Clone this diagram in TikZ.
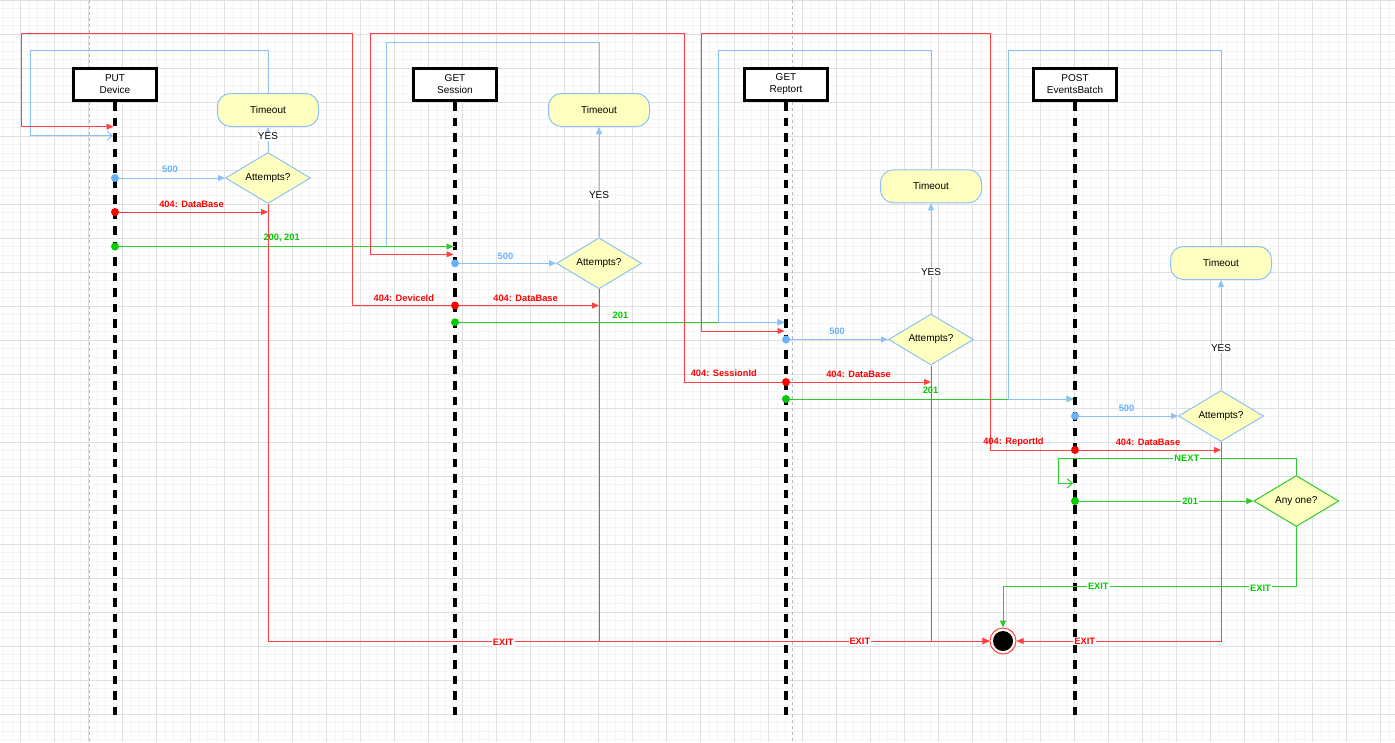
\documentclass[tikz,border=0pt]{standalone}
\usepackage{fontspec}
\setmainfont{Liberation Sans}
\usetikzlibrary{arrows.meta,shapes.geometric}
\definecolor{gridminor}{RGB}{244,244,244}
\definecolor{gridmajor}{RGB}{224,224,224}
\definecolor{pagegray}{RGB}{185,185,185}
\definecolor{noteyellow}{RGB}{255,255,192}
\definecolor{flowblue}{RGB}{140,194,248}
\definecolor{labelblue}{RGB}{102,178,255}
\definecolor{flowred}{RGB}{255,65,65}
\definecolor{flowgreen}{RGB}{45,202,45}
\definecolor{labelgreen}{RGB}{0,204,0}

\begin{document}
\begin{tikzpicture}[x=1pt,y=-1pt,
  headbox/.style={draw=black, line width=3, fill=white, minimum width=83, minimum height=32,
    align=center, inner sep=0, font=\fontsize{10}{12}\selectfont},
  timeoutbox/.style={draw=flowblue, line width=1, fill=noteyellow, rounded corners=13,
    minimum width=101, minimum height=33, font=\fontsize{10}{12}\selectfont},
  decision/.style={diamond, aspect=1.67, draw=flowblue, line width=1, fill=noteyellow,
    minimum width=85, minimum height=51, inner sep=0, font=\fontsize{10}{12}\selectfont},
  lifeline/.style={line width=3.4, dash pattern=on 8.5pt off 7pt},
  blueflow/.style={draw=flowblue, line width=1},
  redflow/.style={draw=flowred, line width=1},
  greenflow/.style={draw=flowgreen, line width=1},
  arrowtip/.style={-{Triangle[length=7pt,width=6pt]}},
  opentip/.style={-{Straight Barb[length=5pt,width=9pt]}},
  lbl/.style={font=\bfseries\fontsize{9.3}{11}\selectfont, inner sep=0.5pt},
  redlbl/.style={lbl, text=red},
  bluelbl/.style={lbl, text=labelblue},
  greenlbl/.style={lbl, text=labelgreen},
  onlinelbl/.style={fill=white, inner sep=1pt},
  yeslbl/.style={font=\fontsize{10}{12}\selectfont, fill=white, inner sep=1pt},
]
\useasboundingbox (0,0) rectangle (1395,742);
\fill[white] (0,0) rectangle (1395,742);

% background grid
\foreach \i in {0,...,164} \draw[gridminor, line width=0.6] ({3.7+8.5*\i},0) -- ++(0,742);
\foreach \i in {0,...,87} \draw[gridminor, line width=0.6] (0,{8.5*\i}) -- ++(1395,0);
\foreach \i in {0,...,40} \draw[gridmajor, line width=0.8] ({20.7+34*\i},0) -- ++(0,742);
\foreach \i in {0,...,21} \draw[gridmajor, line width=0.8] (0,{34*\i}) -- ++(1395,0);

% page borders
\draw[pagegray, line width=0.8, dash pattern=on 3pt off 3pt] (89.3,0) -- (89.3,742);
\draw[pagegray, line width=0.8, dash pattern=on 3pt off 3pt] (792.3,0) -- (792.3,742);

% participants
\node[headbox] (put)  at (115,84.5)  {PUT\\Device};
\node[headbox] (ses)  at (455,84.5)  {GET\\Session};
\node[headbox] (rep)  at (786,84.5)  {GET\\Reptort};
\node[headbox] (post) at (1075,84.5) {POST\\EventsBatch};

% lifelines
\draw[lifeline] (put.south)  -- (115,720);
\draw[lifeline] (ses.south)  -- (455,720);
\draw[lifeline] (rep.south)  -- (786,720);
\draw[lifeline] (post.south) -- (1075,720);

% timeouts and retry decisions
\node[timeoutbox] (to1) at (268,110)   {Timeout};
\node[timeoutbox] (to2) at (599,110)   {Timeout};
\node[timeoutbox] (to3) at (931,186.3) {Timeout};
\node[timeoutbox] (to4) at (1221,263)  {Timeout};
\node[decision] (at1) at (268,178)   {Attempts?};
\node[decision] (at2) at (599,263.3) {Attempts?};
\node[decision] (at3) at (931,339.5) {Attempts?};
\node[decision] (at4) at (1221,416)  {Attempts?};
\node[decision, draw=flowgreen] (any) at (1296.3,501) {Any one?};

% final state
\node[circle, draw=flowred, line width=1, fill=white, minimum size=26, inner sep=0] (end) at (1003,641) {};
\fill[black] (end.center) circle[radius=10pt];

% points on the lifelines
\coordinate (p-red)  at (115,126.7);
\coordinate (p-blue) at (115,135.7);
\coordinate (p-500)  at (115,178);
\coordinate (p-db)   at (115,212);
\coordinate (p-ok)   at (115,246.5);
\coordinate (s-in)   at (455,246.5);
\coordinate (s-red)  at (455,254.3);
\coordinate (s-500)  at (455,263.3);
\coordinate (s-err)  at (455,305.5);
\coordinate (s-ok)   at (455,322.3);
\coordinate (r-in)   at (786,322.3);
\coordinate (r-red)  at (786,331);
\coordinate (r-500)  at (786,339.5);
\coordinate (r-err)  at (786,382);
\coordinate (r-ok)   at (786,399);
\coordinate (q-in)   at (1075,399);
\coordinate (q-500)  at (1075,416);
\coordinate (q-err)  at (1075,450);
\coordinate (q-next) at (1075,483.3);
\coordinate (q-ok)   at (1075,501);

% retry loops back to each call
\draw[blueflow, opentip, shorten >=2pt] (to1.north) |- (30,50.7) |- (p-blue);
\draw[blueflow] (to2.north) |- (386.7,42.3) |- (s-in);

% success paths
\draw[greenflow, arrowtip, shorten >=1.5pt] (p-ok) -- node[greenlbl, pos=0.49, yshift=8.4] {200, 201} (s-in);
\draw[greenflow, arrowtip, shorten >=1.5pt] (s-ok) -- node[greenlbl, yshift=7.3] {201} (r-in);
\draw[greenflow, arrowtip, shorten >=1.5pt] (r-ok) -- node[greenlbl, yshift=9] {201} (q-in);

\draw[blueflow, arrowtip, shorten >=1.5pt] (to3.north) |- (718.3,50.7) |- (r-in);
\draw[blueflow, arrowtip, shorten >=1.5pt] (to4.north) |- (1008.3,50.3) |- (q-in);

% server errors go to the retry decision
\draw[blueflow, arrowtip] (p-500) -- node[bluelbl, yshift=8.7] {500} (at1.west);
\draw[blueflow, arrowtip] (s-500) -- node[bluelbl, yshift=7.3] {500} (at2.west);
\draw[blueflow, arrowtip] (r-500) -- node[bluelbl, yshift=7.8] {500} (at3.west);
\draw[blueflow, arrowtip] (q-500) -- node[bluelbl, yshift=7.7] {500} (at4.west);

\draw[blueflow, arrowtip] (at1.north) -- node[yeslbl, pos=0.63] {YES} (to1.south);
\draw[blueflow, arrowtip] (at2.north) -- node[yeslbl, pos=0.38] {YES} (to2.south);
\draw[blueflow, arrowtip] (at3.north) -- node[yeslbl, pos=0.38] {YES} (to3.south);
\draw[blueflow, arrowtip] (at4.north) -- node[yeslbl, pos=0.38] {YES} (to4.south);

% missing resources restart the previous call
\draw[redflow, arrowtip, shorten >=1.5pt] (s-err) -- node[redlbl, yshift=7.3] {404: DeviceId} (352.7,305.5) |- (21,33.3) |- (p-red);
\draw[redflow, arrowtip, shorten >=1.5pt] (r-err) -- node[redlbl, pos=0.61, yshift=8.7] {404: SessionId} (684,382) |- (370,33.3) |- (s-red);
\draw[redflow, arrowtip, shorten >=1.5pt] (q-err) -- node[redlbl, pos=0.73, yshift=8.3] {404: ReportId} (990.7,450) |- (701,33.3) |- (r-red);

% database errors
\draw[redflow, arrowtip] (p-db)  -- node[redlbl, yshift=7.7] {404: DataBase} (at1.south |- p-db);
\draw[redflow, arrowtip] (s-err) -- node[redlbl, pos=0.49, yshift=7.3] {404: DataBase} (at2.south |- s-err);
\draw[redflow, arrowtip] (r-err) -- node[redlbl, yshift=7.3] {404: DataBase} (at3.south |- r-err);
\draw[redflow, arrowtip] (q-err) -- node[redlbl, yshift=7.3] {404: DataBase} (at4.south |- q-err);

% exits to the final state
\draw[redflow, arrowtip] (at1.south) |- node[redlbl, onlinelbl, pos=0.663, yshift=-1.5] {EXIT} (end.west);
\draw[redflow, arrowtip] (at2.south) |- node[redlbl, onlinelbl, pos=0.834] {EXIT} (end.west);
\draw[redflow, arrowtip] (at3.south) |- (end.west);
\draw[redflow, arrowtip] (at4.south) |- node[redlbl, onlinelbl, pos=0.833] {EXIT} (end.east);

% batch loop
\draw[greenflow, arrowtip] (q-ok) -- node[greenlbl, onlinelbl, pos=0.646] {201} (any.west);
\draw[greenflow, opentip, shorten >=2pt] (any.north) |- node[greenlbl, onlinelbl, pos=0.73] {NEXT} (1058.3,458.3) |- (q-next);
\draw[greenflow, arrowtip] (any.south) -- (any.south |- 0,586) -| node[greenlbl, onlinelbl, pos=0.061, yshift=-2] {EXIT} node[greenlbl, onlinelbl, pos=0.3375] {EXIT} (end.north);

% response markers
\foreach \c in {p-500,s-500,r-500,q-500} \fill[labelblue] (\c) circle[radius=4pt];
\foreach \c in {p-db,s-err,r-err,q-err} \fill[red] (\c) circle[radius=4pt];
\foreach \c in {p-ok,s-ok,r-ok,q-ok} \fill[labelgreen] (\c) circle[radius=4pt];
\end{tikzpicture}
\end{document}
